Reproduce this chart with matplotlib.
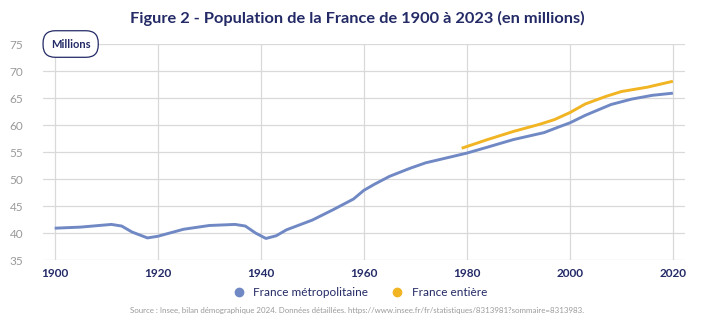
import numpy as np
import matplotlib.pyplot as plt
from matplotlib.lines import Line2D

plt.rcParams['font.family'] = ['Lato', 'DejaVu Sans']

# France métropolitaine (millions)
metro_years = [1900, 1905, 1911, 1913, 1915, 1918, 1920, 1925, 1930, 1935, 1937,
               1939, 1941, 1943, 1945, 1950, 1954, 1958, 1960, 1962, 1965, 1969,
               1972, 1976, 1980, 1984, 1989, 1995, 1998, 2000, 2003, 2008, 2012,
               2016, 2020]
metro_pop = [40.9, 41.1, 41.6, 41.3, 40.2, 39.1, 39.4, 40.7, 41.4, 41.6, 41.3,
             40.0, 39.0, 39.5, 40.6, 42.4, 44.3, 46.3, 47.9, 49.0, 50.5, 52.0,
             53.0, 53.9, 54.8, 55.9, 57.3, 58.6, 59.7, 60.4, 61.8, 63.8, 64.8,
             65.5, 65.9]

# France entière (millions)
fr_years = [1979, 1984, 1989, 1994, 1997, 2000, 2003, 2007, 2010, 2015, 2020]
fr_pop = [55.7, 57.3, 58.8, 60.1, 61.0, 62.3, 63.9, 65.3, 66.2, 67.0, 68.1]

xticks = [1900, 1920, 1940, 1960, 1980, 2000, 2020]
yticks = [35, 40, 45, 50, 55, 60, 65, 70, 75]

blue = '#7089c4'
orange = '#f1b422'
navy = '#232a66'
grey_grid = '#d9d9d9'

fig = plt.figure(figsize=(7.14, 3.36), dpi=100)
ax = fig.add_axes([0.060, 0.226, 0.899, 0.643])

ax.plot(metro_years, metro_pop, color=blue, lw=2.1, solid_capstyle='butt')
ax.plot(fr_years, fr_pop, color=orange, lw=2.1, solid_capstyle='butt')

ax.set_xlim(1897.7, 2022.3)
ax.set_ylim(35, 75)
ax.set_xticks(xticks)
ax.set_yticks(yticks)
ax.grid(True, color=grey_grid, lw=0.9)
ax.set_axisbelow(True)
for s in ax.spines.values():
    s.set_visible(False)
ax.tick_params(length=0)
ax.tick_params(axis='y', pad=14, labelsize=8.5, labelcolor='#9a9a9a')
ax.tick_params(axis='x', pad=6, labelsize=8.5, labelcolor=navy)
for lab in ax.get_xticklabels():
    lab.set_fontweight('bold')

fig.text(0.5, 0.945, 'Figure 2 - Population de la France de 1900 à 2023 (en millions)',
         ha='center', va='center', fontsize=11.8, fontweight='bold', color=navy)

ax.text(1903.1, 75, 'Millions', ha='center', va='center', fontsize=8,
        fontweight='bold', color=navy, zorder=5,
        bbox=dict(boxstyle='round,pad=0.7,rounding_size=1.1', fc='white',
                  ec=navy, lw=0.9))

handles = [Line2D([], [], marker='o', ls='', color=blue, markersize=6),
           Line2D([], [], marker='o', ls='', color=orange, markersize=6)]
fig.legend(handles, ['France métropolitaine', 'France entière'],
           loc='center', bbox_to_anchor=(0.5, 0.128), ncol=2, frameon=False,
           fontsize=8.5, labelcolor=navy, handletextpad=0.2, columnspacing=1.5)

fig.text(0.5, 0.075,
         'Source : Insee, bilan démographique 2024. Données détaillées. '
         'https://www.insee.fr/fr/statistiques/8313981?sommaire=8313983.',
         ha='center', va='center', fontsize=5.7, color='#9a9a9a')

fig.savefig('out.png', dpi=100)
